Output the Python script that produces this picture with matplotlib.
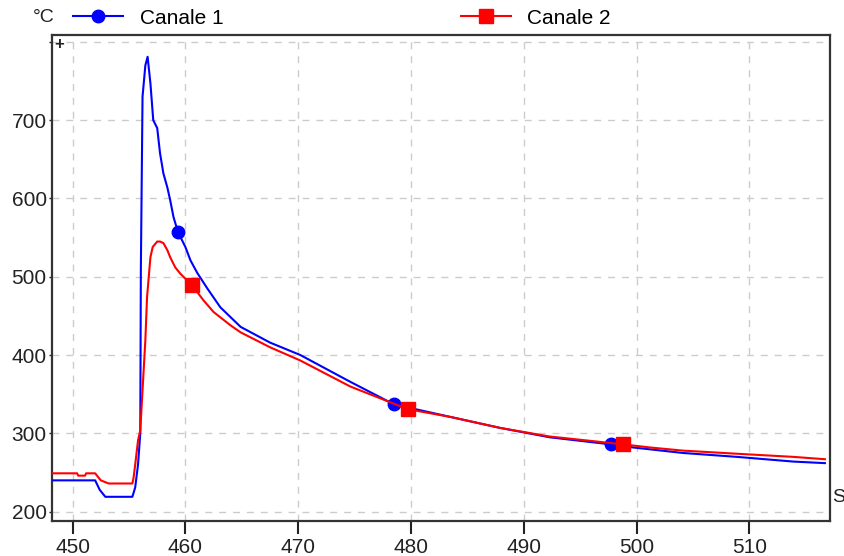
import matplotlib
matplotlib.use("Agg")
import matplotlib.pyplot as plt

plt.rcParams['font.family'] = ['Liberation Sans', 'DejaVu Sans']

# ---- data ----
c1_x = [448.2, 452.0, 452.4, 452.9, 455.3, 455.55, 455.8, 456.0, 456.05, 456.2,
        456.45, 456.65, 456.9, 457.15, 457.5, 457.75, 458.05, 458.4, 458.65, 458.95,
        459.35, 460.0, 460.45, 461.05, 461.95, 463.1, 464.9, 467.5, 470.2, 474.6,
        478.5, 483.5, 487.9, 492.3, 497.7, 499.7, 504.1, 508.9, 513.9, 516.7]
c1_y = [240, 240, 228, 219, 219, 231, 260, 300, 508, 730,
        770, 781, 747, 700, 690, 658, 632, 614, 598, 576,
        557, 538, 521, 505, 485, 461, 436, 416, 400, 366,
        337, 321, 307, 295, 286, 282, 275, 270, 264, 262]
c1_marker_idx = [20, 30, 34]

c2_x = [448.2, 450.4, 450.5, 451.1, 451.2, 452.0, 452.5, 453.2, 455.3, 455.4,
        455.55, 455.8, 456.0, 456.45, 456.6, 456.9, 457.1, 457.5, 457.75, 458.05,
        458.4, 458.65, 459.1, 459.55, 460.6, 461.6, 462.5, 464.0, 464.9, 467.5,
        470.2, 474.6, 479.7, 483.5, 487.9, 492.3, 498.8, 501.2, 504.1, 508.9,
        513.9, 516.7]
c2_y = [249, 249, 246, 246, 249, 249, 240, 236, 236, 243,
        260, 291, 304, 419, 474, 525, 538, 545, 545, 543,
        534, 525, 512, 504, 489, 470, 455, 438, 429, 410,
        393, 360, 331, 321, 307, 296, 286, 282, 278, 274,
        270, 267]
c2_marker_idx = [24, 32, 36]

series_names = ["Canale 1", "Canale 2"]
x_ticks = [450, 460, 470, 480, 490, 500, 510]
y_ticks = [200, 300, 400, 500, 600, 700, 800]
y_tick_labels = ["200", "300", "400", "500", "600", "700", ""]

# ---- figure ----
fig = plt.figure(figsize=(8.45, 5.56), dpi=100)
ax = fig.add_axes([52.3 / 845, 1 - 521 / 556, (830 - 52.3) / 845, (521 - 35) / 556])

l1, = ax.plot(c1_x, c1_y, color='#0000ff', lw=1.5, marker='o', markersize=9,
              markevery=c1_marker_idx, label=series_names[0], zorder=3)
l2, = ax.plot(c2_x, c2_y, color='#ff0000', lw=1.5, marker='s', markersize=10,
              markevery=c2_marker_idx, label=series_names[1], zorder=4)

ax.set_xlim(448.2, 517.15)
ax.set_ylim(188.1, 808.8)
ax.set_xticks(x_ticks)
ax.set_xticklabels([str(t) for t in x_ticks])
ax.set_yticks(y_ticks)
ax.set_yticklabels(y_tick_labels)

ax.grid(True, color='#cccccc', linestyle=(0, (5, 5)), linewidth=1)
ax.set_axisbelow(True)
for s in ax.spines.values():
    s.set_color('#333333')
    s.set_linewidth(1.6)

ax.tick_params(axis='x', direction='out', length=9, width=1.5, pad=3,
               labelsize=15, colors='#222222')
ax.tick_params(axis='y', direction='out', length=2, width=1, pad=2,
               labelsize=15, colors='#222222')

# legend on top
fig.legend(handles=[l1, l2], loc='center left', ncol=2,
           bbox_to_anchor=(73 / 845, 1 - 18 / 556), frameon=False,
           borderpad=0, borderaxespad=0, handlelength=2.4, handletextpad=0.8,
           columnspacing=11.4, numpoints=1, fontsize=15)

fig.text(33 / 845, 1 - 18 / 556, "°C", fontsize=14, va='center', ha='left', color='#222222')
fig.text(59 / 845, 1 - 44 / 556, "+", fontsize=12, va='center', ha='center',
         color='#222222', fontweight='bold')
fig.text(832 / 845, 1 - 497 / 556, "S", fontsize=14, va='center', ha='left', color='#222222')

fig.savefig("out.png", dpi=100)
